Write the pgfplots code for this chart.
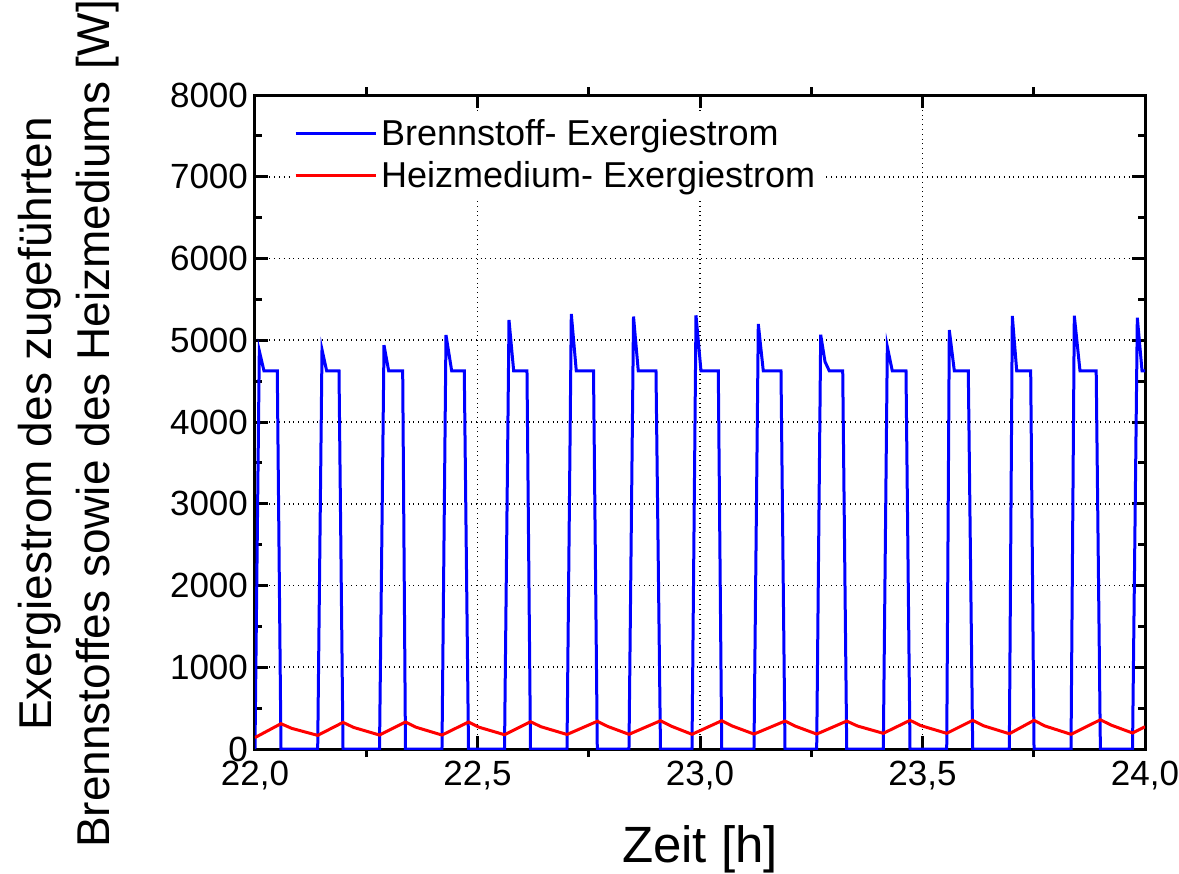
\documentclass[border=0pt]{standalone}
\usepackage{fontspec}
\setmainfont{Liberation Sans}
\usepackage{pgfplots}
\pgfplotsset{compat=1.18}
\begin{document}
\begin{tikzpicture}
\begin{axis}[
 scale only axis, width=445pt, height=327pt,
 xmin=22, xmax=24, ymin=0, ymax=8000,
 clip mode=individual,
 xtick={22,22.5,...,24}, ytick={0,1000,...,8000},
 minor y tick num=1,
 extra x ticks={22.25,22.75,23.25,23.75},
 extra x tick labels={},
 extra x tick style={tick align=outside, major tick length=4pt, grid=none},
 tick align=inside, major tick length=6.5pt, minor tick length=3.5pt,
 axis line style={line width=1.5pt},
 tick style={line width=1.5pt, black},
 grid=major, grid style={dotted, black, line width=0.8pt},
 /pgf/number format/assume math mode=true,
 ticklabel style={font=\fontsize{17.5}{20}\selectfont},
 x tick label style={yshift=-2.5pt, /pgf/number format/.cd, fixed, fixed zerofill, precision=1, use comma},
 y tick label style={/pgf/number format/1000 sep={}},
 legend style={at={(rel axis cs:0.039,0.976)}, anchor=north west, draw=none, fill=white,
   font=\fontsize{18}{22}\selectfont, row sep=2.5pt, inner sep=2pt},
 legend cell align=left,
 legend image code/.code={\draw[#1] (0pt,0pt) -- (40pt,0pt);},
]
\addplot[blue, line width=1.5pt] coordinates {
(22.0000,0) (22.0097,4870) (22.0202,4625) (22.0501,4625) (22.0584,0)
(22.1409,0) (22.1506,4885) (22.1611,4625) (22.1888,4625) (22.1978,0)
(22.2798,0) (22.2899,4940) (22.3004,4625) (22.3319,4625) (22.3382,0)
(22.4202,0) (22.4292,5064) (22.4420,4625) (22.4703,4625) (22.4798,0)
(22.5607,0) (22.5708,5248) (22.5813,4625) (22.6112,4625) (22.6191,0)
(22.7011,0) (22.7108,5321) (22.7220,4625) (22.7607,4625) (22.7692,0)
(22.8404,0) (22.8506,5290) (22.8613,4625) (22.9011,4625) (22.9112,0)
(22.9820,0) (22.9910,5305) (23.0022,4625) (23.0411,4625) (23.0488,0)
(23.1213,0) (23.1310,5199) (23.1422,4625) (23.1820,4625) (23.1910,0)
(23.2622,0) (23.2712,5068) (23.2809,4738) (23.2906,4625) (23.3207,4625) (23.3297,0)
(23.4119,0) (23.4209,4921) (23.4321,4625) (23.4629,4625) (23.4719,0)
(23.5544,0) (23.5602,5125) (23.5715,4625) (23.6029,4625) (23.6128,0)
(23.6951,0) (23.7018,5297) (23.7117,4625) (23.7431,4625) (23.7506,0)
(23.8337,0) (23.8411,5300) (23.8539,4625) (23.8903,4625) (23.8997,0)
(23.9719,0) (23.9827,5276) (23.9933,4625) (24.0,4625)
};
\addlegendentry{Brennstoff- Exergiestrom}
\addplot[red, line width=1.5pt] coordinates {
(22.0,140)
(22.0584,310) (22.0824,253) (22.1409,167)
(22.1978,326) (22.2218,264) (22.2798,171)
(22.3382,330) (22.3622,266) (22.4202,171)
(22.4798,330) (22.5038,266) (22.5607,175)
(22.6191,334) (22.6431,272) (22.7011,178)
(22.7692,339) (22.7932,275) (22.8404,180)
(22.9112,346) (22.9352,280) (22.9820,180)
(23.0488,346) (23.0728,281) (23.1213,183)
(23.1910,342) (23.2150,278) (23.2622,183)
(23.3297,342) (23.3537,282) (23.4119,192)
(23.4719,351) (23.4959,287) (23.5544,192)
(23.6128,351) (23.6368,285) (23.6951,187)
(23.7506,351) (23.7746,283) (23.8337,180)
(23.8997,358) (23.9237,293) (23.9719,196)
(24.0,273)
};
\addlegendentry{Heizmedium- Exergiestrom}
\node[rotate=90, align=center, font=\fontsize{23}{29}\selectfont] at (rel axis cs:-0.209,0.497)
 {Exergiestrom des zugeführten\\Brennstoffes sowie des Heizmediums [W]};
\node[anchor=base, font=\fontsize{25.5}{30}\selectfont] at (rel axis cs:0.5,-0.1728) {Zeit [h]};
\coordinate (bl) at (rel axis cs:-0.2865,-0.1896);
\coordinate (tr) at (rel axis cs:1.0382,1.1453);
\end{axis}
\pgfresetboundingbox
\path (bl) rectangle (tr);
\end{tikzpicture}
\end{document}
